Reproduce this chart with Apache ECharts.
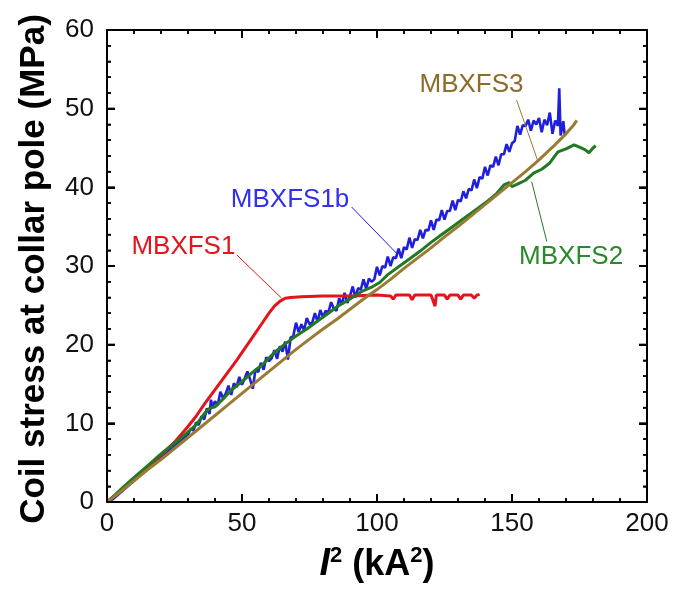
<!DOCTYPE html>
<html><head><meta charset="utf-8">
<script src="https://cdn.jsdelivr.net/npm/echarts@6/dist/echarts.min.js"></script>
<style>html,body{margin:0;padding:0;background:#fff}#c{width:686px;height:589px}</style>
</head><body><div id="c"></div>
<script>
// ---- data (x = I^2 in kA^2, y = coil stress in MPa) ----
const xRange = [0, 200];
const yRange = [0, 60];
const xTickStep = 50;
const yTickStep = 10;
const xMinorStep = 10;
const yMinorStep = 2;

const mbxfs1 = [[0,0],[5,1.4],[10,2.9],[15,4.4],[20,6.0],[25,7.6],[30,9.6],[33,10.9],[36,12.4],[39,13.8],[42,15.2],[45,16.6],[48,18.0],[51,19.5],[54,21.0],[57,22.5],[60,24.0],[62,24.9],[64,25.5],[66,25.9],[68,26.0],[72,26.1],[80,26.2],[90,26.2],[100,26.3],[105,26.2],[106,25.8],[107,26.3],[112,26.3],[113,25.7],[114,26.3],[118,26.3],[120,26.3],[121.5,24.9],[122,26.3],[125,26.3],[126,25.8],[127,26.3],[130,26.3],[131,25.8],[132,26.3],[135,26.3],[136,25.9],[137,26.3],[138,26.4]];

const mbxfs1b = [[0,0],[2,0.3],[4,0.9],[6,1.5],[8,2.1],[10,2.7],[12,3.3],[14,3.9],[16,4.5],[18,5.1],[20,5.6],[22,6.2],[24,6.8],[26,7.4],[28,8.0],[30,8.6],[31,9.3],[32,9.1],[33,10.1],[34,9.8],[35,10.9],[36,10.5],[37,11.9],[38,11.2],[38.5,13.0],[39,12.1],[40,12.8],[41,12.3],[42,14.0],[43,13.2],[44,13.8],[45,14.8],[46,13.6],[47,15.1],[48,14.6],[49,15.9],[50,14.9],[51,15.7],[52,16.6],[53,15.6],[54,14.4],[55,16.9],[56,16.5],[57,17.7],[58,16.8],[59,18.4],[60,17.9],[61,18.3],[62,19.3],[63,18.2],[64,19.8],[65,19.1],[66,20.4],[67,18.1],[68,20.9],[69,21.1],[70,22.8],[71,21.6],[72,22.6],[73,21.8],[74,23.4],[75,22.6],[76,22.8],[77,24.0],[78,22.9],[79,24.4],[80,23.5],[81,24.3],[82,24.1],[83,25.4],[84,24.6],[85,24.3],[86,25.9],[87,25.1],[88,26.6],[89,25.3],[90,26.2],[91,27.4],[92,26.0],[93,27.2],[94,27.0],[95,28.3],[96,27.1],[97,28.4],[98,28.0],[99,28.3],[100,29.9],[101,28.8],[102,30.0],[103,29.8],[104,31.2],[105,30.0],[106,31.1],[107,31.0],[108,32.2],[109,31.0],[110,32.4],[111,32.1],[112,33.6],[113,32.3],[114,33.4],[115,33.3],[116,34.6],[117,33.5],[118,34.6],[119,34.5],[120,35.8],[121,34.6],[122,35.9],[123,35.8],[124,37.1],[125,35.9],[126,37.0],[127,37.0],[128,38.3],[129,37.1],[130,38.4],[131,38.2],[132,39.5],[133,38.6],[134,39.8],[135,39.6],[136,41.0],[137,39.9],[138,41.3],[139,41.1],[140,42.6],[141,41.5],[142,42.8],[143,42.6],[144,43.9],[145,42.8],[146,44.2],[147,44.2],[148,45.5],[149,44.5],[150,45.6],[151,45.9],[152,47.8],[153,46.7],[154,47.9],[155,47.8],[156,48.6],[157,47.2],[158,48.5],[159,48.0],[160,48.8],[161,47.0],[162,48.6],[163,47.9],[164,49.5],[165,46.8],[166,48.5],[167,47.8],[167.5,52.6],[168,46.6],[169,48.4],[169.5,46.7]];

const mbxfs2 = [[0,0],[3,0.9],[6,1.9],[9,2.8],[12,3.7],[15,4.6],[18,5.5],[21,6.4],[24,7.2],[27,8.0],[30,8.9],[33,9.8],[36,11.2],[38,11.9],[40,12.1],[43,13.1],[46,14.2],[50,15.3],[54,16.5],[58,17.6],[62,19.0],[66,20.1],[70,21.1],[74,22.0],[78,23.0],[82,24.0],[86,25.0],[90,25.8],[94,26.7],[98,27.3],[101,27.9],[104,28.9],[108,29.9],[112,30.9],[116,31.9],[120,33.0],[124,34.0],[128,35.0],[132,36.0],[136,37.0],[140,38.0],[144,39.1],[147,40.3],[149,40.6],[150,40.1],[152,40.4],[155,40.9],[158,41.8],[161,42.3],[164,43.1],[167,44.5],[170,44.9],[173,45.4],[175,45.1],[177,44.8],[178.5,44.4],[180,45.0],[181,45.3]];

const mbxfs3 = [[0,0],[5,1.3],[10,2.7],[15,4.1],[20,5.4],[25,6.8],[30,8.2],[35,9.6],[40,11.0],[45,12.4],[50,13.8],[55,15.2],[60,16.6],[65,18.0],[70,19.4],[75,20.7],[80,22.0],[85,23.2],[90,24.5],[95,25.8],[100,27.0],[105,28.3],[110,29.7],[115,31.0],[120,32.3],[125,33.7],[130,35.0],[135,36.4],[140,37.8],[145,39.2],[150,40.6],[155,42.0],[160,43.5],[165,45.1],[170,46.8],[173,48.0],[174,48.5]];

// annotation labels: text, label centre, leader line start/end (data coords)
const labelNames = ['MBXFS1', 'MBXFS1b', 'MBXFS3', 'MBXFS2'];
const labelAt = [[28.3, 32.5], [67.8, 38.4], [135.0, 53.0], [171.9, 31.2]];
const leaderFrom = [[48.1, 31.4], [90.6, 37.5], [151.7, 51.1], [162.9, 33.1]];
const leaderTo = [[64.7, 25.9], [107.3, 31.6], [159.7, 43.2], [157.3, 40.7]];

const xTitle = '{i|I}{s|2}{n| (kA}{s|2}{n|)}';
const yTitle = 'Coil stress at collar pole (MPa)';

// ---- styles / layout ----
const FONT = 'Liberation Sans, Arial, Helvetica, sans-serif';
const lineColors = {MBXFS1: '#e3141c', MBXFS1b: '#1f1fdc', MBXFS2: '#217a21', MBXFS3: '#9a7b33'};
const textColors = {MBXFS1: '#e3141c', MBXFS1b: '#3030ee', MBXFS2: '#2a8a2a', MBXFS3: '#8d6c2a'};
const GRID = {left: 107, right: 39, top: 30, bottom: 87};
const W = 686, H = 589;
const MAJOR = {len: 8, w: 2}, MINOR = {len: 4, w: 1.5};

const chart = echarts.init(document.getElementById('c'));

function axisBase(extra) {
  return Object.assign({
    type: 'value',
    axisLine: {show: true, onZero: false, lineStyle: {color: '#000', width: 2}},
    axisTick: {show: true, inside: true, length: MAJOR.len, lineStyle: {color: '#000', width: MAJOR.w}},
    minorTick: {show: true, splitNumber: 5, length: MINOR.len, lineStyle: {color: '#000', width: MINOR.w}},
    splitLine: {show: false}
  }, extra);
}

const seriesList = [];
const addCurve = (name, data, width) => seriesList.push({
  name, type: 'line', data, symbol: 'none',
  lineStyle: {color: lineColors[name], width}
});
addCurve('MBXFS1b', mbxfs1b, 2.6);
addCurve('MBXFS1', mbxfs1, 3);
addCurve('MBXFS2', mbxfs2, 3);
addCurve('MBXFS3', mbxfs3, 3);
labelNames.forEach((n, i) => {
  seriesList.push({
    type: 'line', data: [leaderFrom[i], leaderTo[i]], symbol: 'none',
    lineStyle: {color: lineColors[n], width: 1}
  });
});

chart.setOption({
  animation: false,
  grid: GRID,
  xAxis: [
    axisBase({
      min: xRange[0], max: xRange[1], interval: xTickStep,
      axisLabel: {fontSize: 26, color: '#111', fontFamily: FONT, margin: 9}
    }),
    axisBase({min: xRange[0], max: xRange[1], interval: xTickStep, position: 'top', axisLabel: {show: false}})
  ],
  yAxis: [
    axisBase({
      min: yRange[0], max: yRange[1], interval: yTickStep,
      axisLabel: {fontSize: 26, color: '#111', fontFamily: FONT, margin: 13}
    }),
    axisBase({min: yRange[0], max: yRange[1], interval: yTickStep, position: 'right', axisLabel: {show: false}})
  ],
  series: seriesList
});

const toPx = (p) => chart.convertToPixel({gridIndex: 0}, p);
const graphics = [];

// inward tick marks on all four sides as small filled bars, placed through the axes' scales
const corner0 = toPx([xRange[0], yRange[0]]);
const corner1 = toPx([xRange[1], yRange[1]]);
const xl = corner0[0], yb = corner0[1], xr = corner1[0], yt = corner1[1];
for (let v = xRange[0]; v <= xRange[1] + 1e-9; v += xMinorStep) {
  const t = Math.abs(v % xTickStep) < 1e-9 ? MAJOR : MINOR;
  const px = toPx([v, yRange[0]])[0];
  graphics.push({type: 'rect', silent: true, z: 60, shape: {x: px - t.w / 2, y: yb - t.len, width: t.w, height: t.len}, style: {fill: '#000'}});
  graphics.push({type: 'rect', silent: true, z: 60, shape: {x: px - t.w / 2, y: yt, width: t.w, height: t.len}, style: {fill: '#000'}});
}
for (let v = yRange[0]; v <= yRange[1] + 1e-9; v += yMinorStep) {
  const t = Math.abs(v % yTickStep) < 1e-9 ? MAJOR : MINOR;
  const py = toPx([xRange[0], v])[1];
  graphics.push({type: 'rect', silent: true, z: 60, shape: {x: xl, y: py - t.w / 2, width: t.len, height: t.w}, style: {fill: '#000'}});
  graphics.push({type: 'rect', silent: true, z: 60, shape: {x: xr - t.len, y: py - t.w / 2, width: t.len, height: t.w}, style: {fill: '#000'}});
}

// series labels
labelNames.forEach((n, i) => {
  const p = toPx(labelAt[i]);
  graphics.push({
    type: 'text', x: p[0], y: p[1], silent: true, z: 50,
    style: {text: n, fill: textColors[n], fontFamily: FONT, fontSize: 26,
      align: 'center', verticalAlign: 'middle', textAlign: 'center', textVerticalAlign: 'middle'}
  });
});

// axis titles
const plotMidX = (xl + xr) / 2;
const plotMidY = (yt + yb) / 2;
graphics.push({
  type: 'text', x: 34, y: plotMidY + 3, rotation: Math.PI / 2, silent: true, z: 50,
  style: {text: yTitle, fill: '#000', fontFamily: FONT, fontWeight: 'bold', fontSize: 35,
    align: 'center', verticalAlign: 'middle', textAlign: 'center', textVerticalAlign: 'middle'}
});
graphics.push({
  type: 'text', x: plotMidX, y: yb + 63, silent: true, z: 50,
  style: {
    text: xTitle, fill: '#000', fontFamily: FONT, fontWeight: 'bold', fontSize: 36,
    align: 'center', verticalAlign: 'middle', textAlign: 'center', textVerticalAlign: 'middle',
    rich: {
      i: {fontFamily: FONT, fontWeight: 'bold', fontStyle: 'italic', fontSize: 38, fill: '#000', lineHeight: 40},
      n: {fontFamily: FONT, fontWeight: 'bold', fontSize: 36, fill: '#000', lineHeight: 40},
      s: {fontFamily: FONT, fontWeight: 'bold', fontSize: 22, fill: '#000', verticalAlign: 'top', lineHeight: 22}
    }
  }
});
chart.setOption({graphic: graphics});
</script></body></html>
